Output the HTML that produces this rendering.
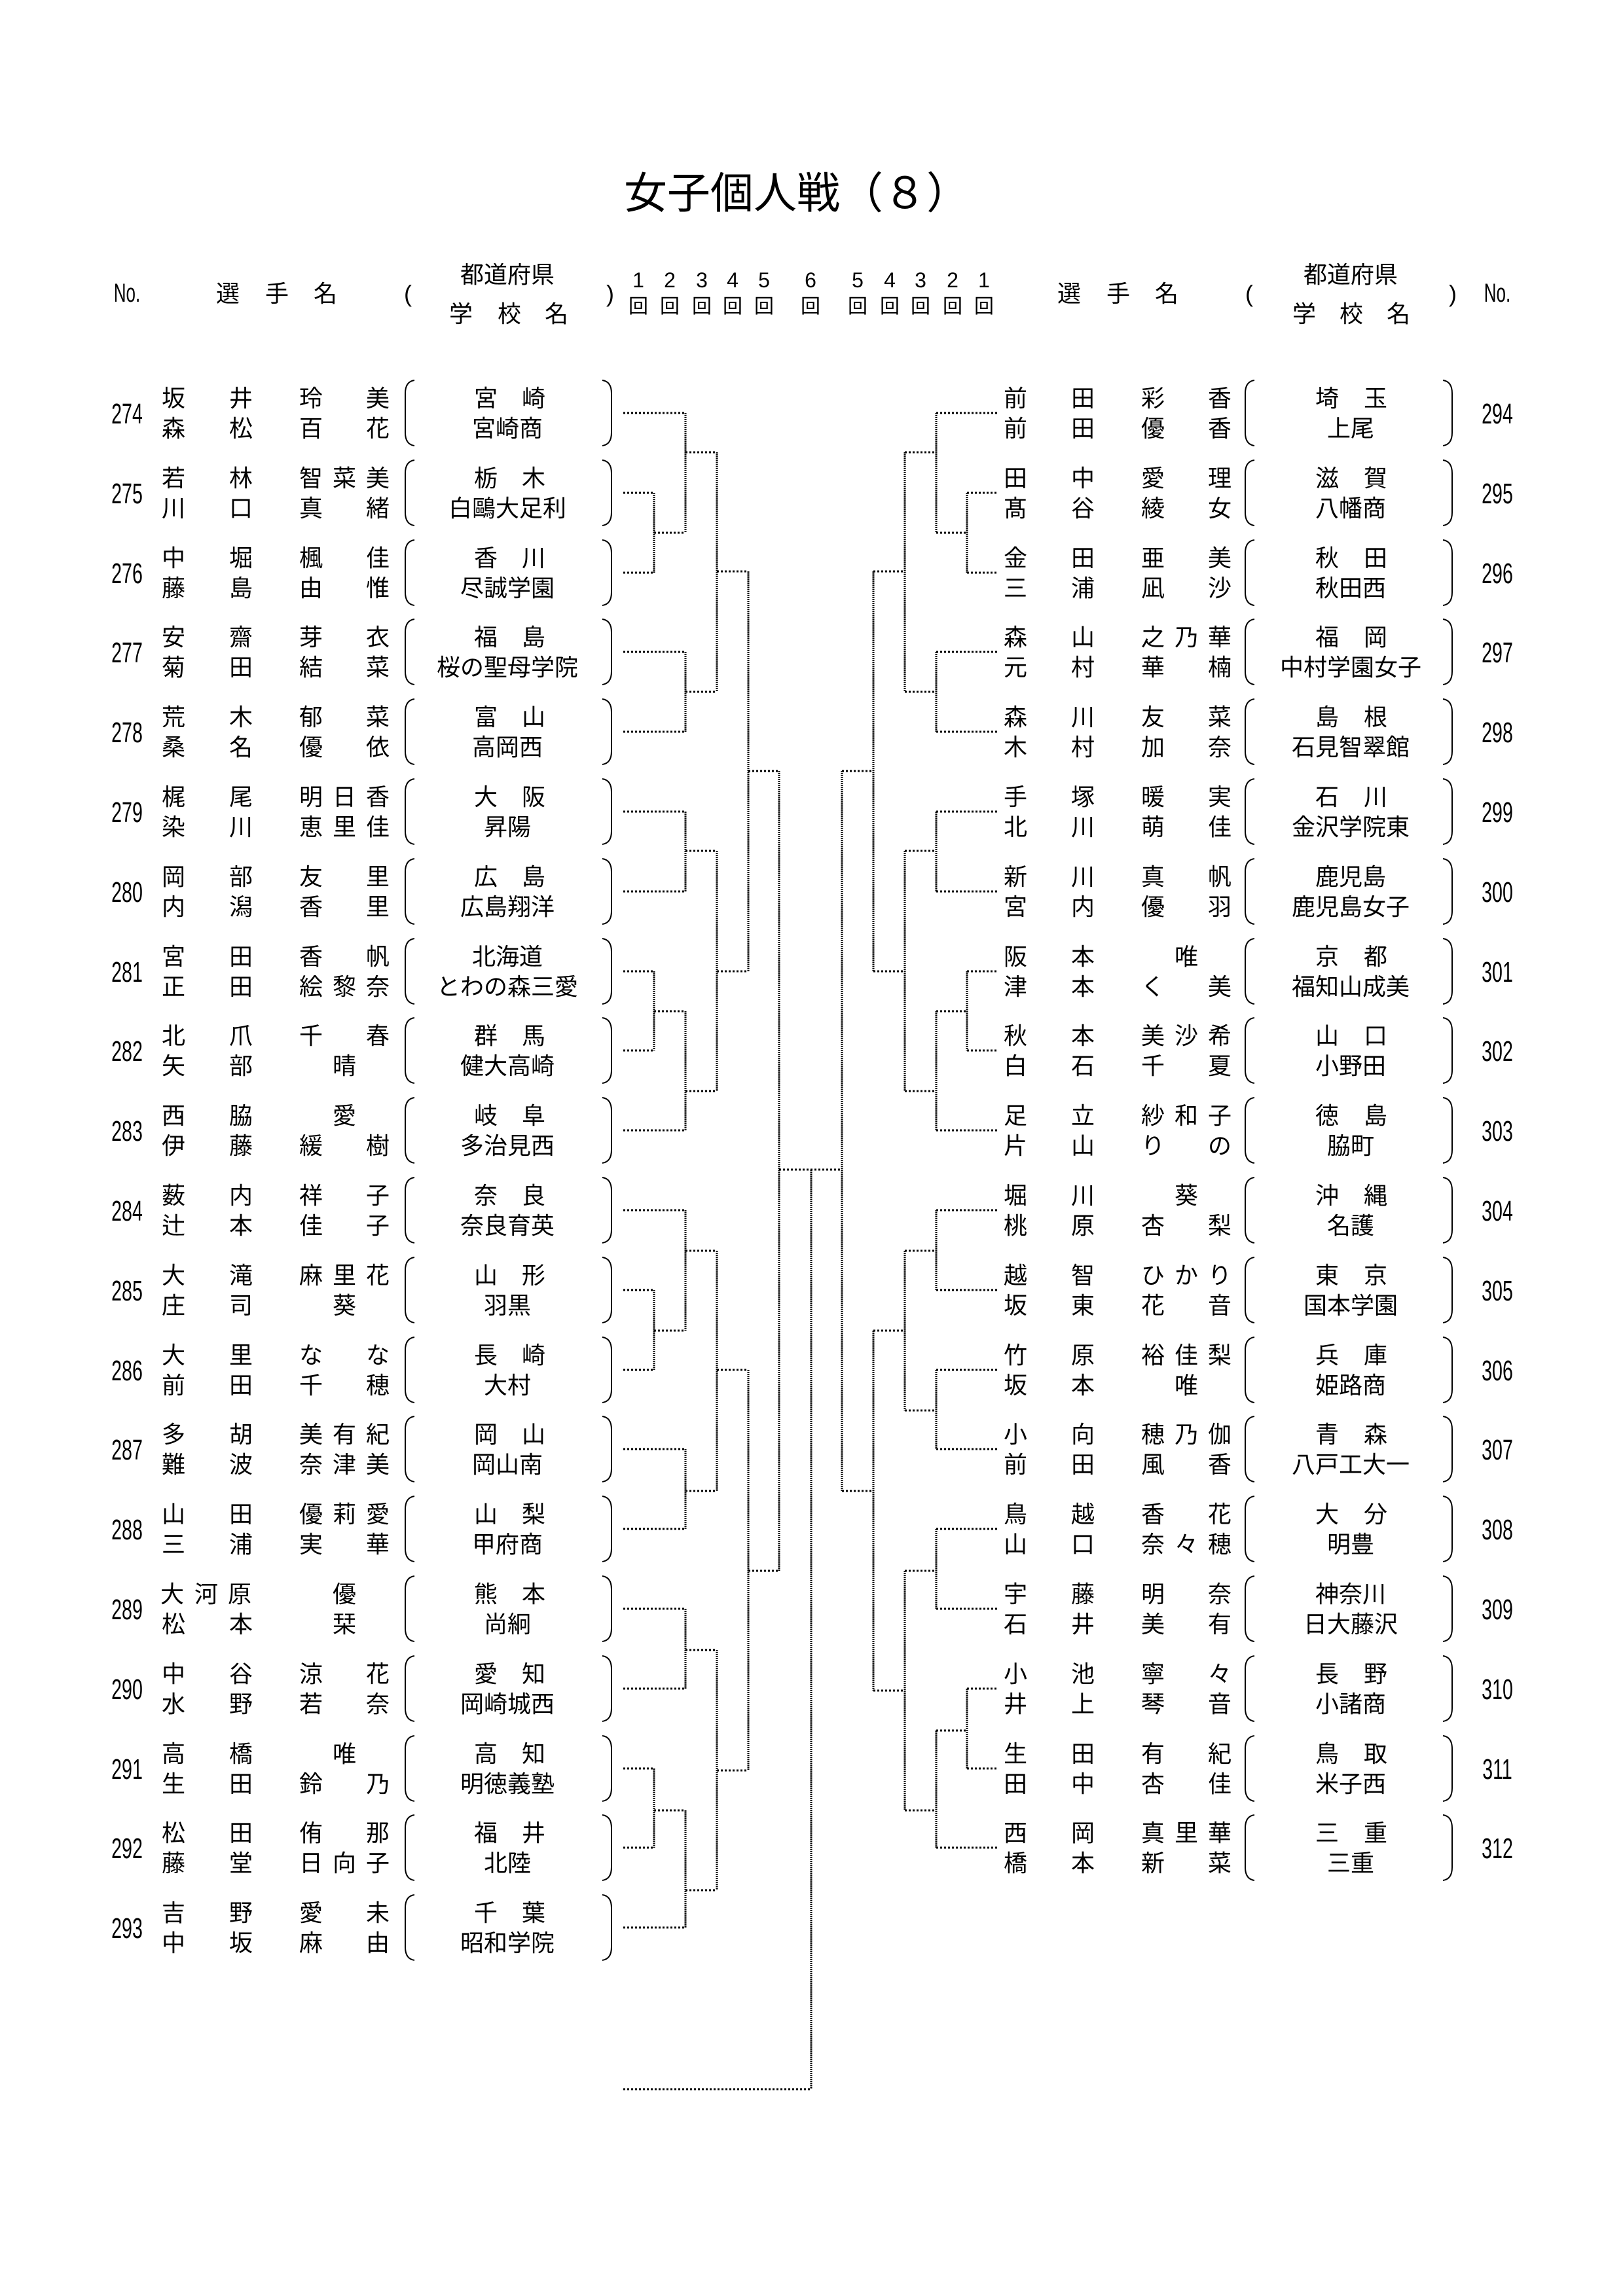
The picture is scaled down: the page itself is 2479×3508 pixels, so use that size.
<!DOCTYPE html>
<html><head><meta charset="utf-8"><style>
html,body{margin:0;padding:0;background:#fff}
svg{display:block}
text{font-family:"Liberation Sans","Noto Sans CJK JP",sans-serif;fill:#000}
.n{font-size:36px}
.c{text-anchor:middle}
.h{fill:none;stroke:#000;stroke-width:3;stroke-dasharray:3 3}
.v{fill:none;stroke:#000;stroke-width:3;stroke-dasharray:2 1}
.p{fill:none;stroke:#000;stroke-width:2}
</style></head><body>
<svg width="2479" height="3508" viewBox="0 0 2479 3508" xmlns="http://www.w3.org/2000/svg">
<defs>
<path id="lp" d="M14,-50 Q0,-48 0,-30 L0,30 Q0,48 14,50"/>
<path id="rp" d="M0,-50 Q14,-48 14,-30 L14,30 Q14,48 0,50"/>
</defs>
<text x="1217" y="318" class="c" font-size="66">女子個人戦（８）</text>

<!-- header left -->
<text transform="translate(194,461) scale(0.65,1)" class="c" font-size="40">No.</text>
<text class="n c" x="348 423 497" y="461">選手名</text>
<text class="n c" x="623" y="461">(</text>
<text class="n c" x="775" y="432">都道府県</text>
<text class="n c" x="704 778 850" y="492">学校名</text>
<text class="n c" x="932" y="461">)</text>
<text class="c" font-size="32" x="975 1023 1072 1119 1167 1238 1310 1359 1406 1455 1503" y="439">12345654321</text>
<text class="c" font-size="30" x="975 1023 1072 1119 1167 1238 1310 1359 1406 1455 1503" y="478">回回回回回回回回回回回</text>
<!-- header right -->
<text class="n c" x="1633 1708 1782" y="461">選手名</text>
<text class="n c" x="1908" y="461">(</text>
<text class="n c" x="2063" y="432">都道府県</text>
<text class="n c" x="1992 2064 2136" y="492">学校名</text>
<text class="n c" x="2219" y="461">)</text>
<text transform="translate(2287,461) scale(0.65,1)" class="c" font-size="40">No.</text>

<!-- left rows -->
<g class="n c">
<g transform="translate(0,631)"><text transform="translate(194,16) scale(0.65,1)" font-size="44">274</text><text x="265 368" y="-10">坂井</text><text x="475 577" y="-10">玲美</text><text x="265 368" y="36">森松</text><text x="475 577" y="36">百花</text><use href="#lp" x="619" class="p"/><use href="#rp" x="920" class="p"/><text x="742 815" y="-10">宮崎</text><text x="775" y="36">宮崎商</text></g>
<g transform="translate(0,753)"><text transform="translate(194,16) scale(0.65,1)" font-size="44">275</text><text x="265 368" y="-10">若林</text><text x="475 526 577" y="-10">智菜美</text><text x="265 368" y="36">川口</text><text x="475 577" y="36">真緒</text><use href="#lp" x="619" class="p"/><use href="#rp" x="920" class="p"/><text x="742 815" y="-10">栃木</text><text x="775" y="36">白鷗大足利</text></g>
<g transform="translate(0,875)"><text transform="translate(194,16) scale(0.65,1)" font-size="44">276</text><text x="265 368" y="-10">中堀</text><text x="475 577" y="-10">楓佳</text><text x="265 368" y="36">藤島</text><text x="475 577" y="36">由惟</text><use href="#lp" x="619" class="p"/><use href="#rp" x="920" class="p"/><text x="742 815" y="-10">香川</text><text x="775" y="36">尽誠学園</text></g>
<g transform="translate(0,996)"><text transform="translate(194,16) scale(0.65,1)" font-size="44">277</text><text x="265 368" y="-10">安齋</text><text x="475 577" y="-10">芽衣</text><text x="265 368" y="36">菊田</text><text x="475 577" y="36">結菜</text><use href="#lp" x="619" class="p"/><use href="#rp" x="920" class="p"/><text x="742 815" y="-10">福島</text><text x="775" y="36">桜の聖母学院</text></g>
<g transform="translate(0,1118)"><text transform="translate(194,16) scale(0.65,1)" font-size="44">278</text><text x="265 368" y="-10">荒木</text><text x="475 577" y="-10">郁菜</text><text x="265 368" y="36">桑名</text><text x="475 577" y="36">優依</text><use href="#lp" x="619" class="p"/><use href="#rp" x="920" class="p"/><text x="742 815" y="-10">富山</text><text x="775" y="36">高岡西</text></g>
<g transform="translate(0,1240)"><text transform="translate(194,16) scale(0.65,1)" font-size="44">279</text><text x="265 368" y="-10">梶尾</text><text x="475 526 577" y="-10">明日香</text><text x="265 368" y="36">染川</text><text x="475 526 577" y="36">恵里佳</text><use href="#lp" x="619" class="p"/><use href="#rp" x="920" class="p"/><text x="742 815" y="-10">大阪</text><text x="775" y="36">昇陽</text></g>
<g transform="translate(0,1362)"><text transform="translate(194,16) scale(0.65,1)" font-size="44">280</text><text x="265 368" y="-10">岡部</text><text x="475 577" y="-10">友里</text><text x="265 368" y="36">内潟</text><text x="475 577" y="36">香里</text><use href="#lp" x="619" class="p"/><use href="#rp" x="920" class="p"/><text x="742 815" y="-10">広島</text><text x="775" y="36">広島翔洋</text></g>
<g transform="translate(0,1484)"><text transform="translate(194,16) scale(0.65,1)" font-size="44">281</text><text x="265 368" y="-10">宮田</text><text x="475 577" y="-10">香帆</text><text x="265 368" y="36">正田</text><text x="475 526 577" y="36">絵黎奈</text><use href="#lp" x="619" class="p"/><use href="#rp" x="920" class="p"/><text x="775" y="-10">北海道</text><text x="775" y="36">とわの森三愛</text></g>
<g transform="translate(0,1605)"><text transform="translate(194,16) scale(0.65,1)" font-size="44">282</text><text x="265 368" y="-10">北爪</text><text x="475 577" y="-10">千春</text><text x="265 368" y="36">矢部</text><text x="526" y="36">晴</text><use href="#lp" x="619" class="p"/><use href="#rp" x="920" class="p"/><text x="742 815" y="-10">群馬</text><text x="775" y="36">健大高崎</text></g>
<g transform="translate(0,1727)"><text transform="translate(194,16) scale(0.65,1)" font-size="44">283</text><text x="265 368" y="-10">西脇</text><text x="526" y="-10">愛</text><text x="265 368" y="36">伊藤</text><text x="475 577" y="36">緩樹</text><use href="#lp" x="619" class="p"/><use href="#rp" x="920" class="p"/><text x="742 815" y="-10">岐阜</text><text x="775" y="36">多治見西</text></g>
<g transform="translate(0,1849)"><text transform="translate(194,16) scale(0.65,1)" font-size="44">284</text><text x="265 368" y="-10">薮内</text><text x="475 577" y="-10">祥子</text><text x="265 368" y="36">辻本</text><text x="475 577" y="36">佳子</text><use href="#lp" x="619" class="p"/><use href="#rp" x="920" class="p"/><text x="742 815" y="-10">奈良</text><text x="775" y="36">奈良育英</text></g>
<g transform="translate(0,1971)"><text transform="translate(194,16) scale(0.65,1)" font-size="44">285</text><text x="265 368" y="-10">大滝</text><text x="475 526 577" y="-10">麻里花</text><text x="265 368" y="36">庄司</text><text x="526" y="36">葵</text><use href="#lp" x="619" class="p"/><use href="#rp" x="920" class="p"/><text x="742 815" y="-10">山形</text><text x="775" y="36">羽黒</text></g>
<g transform="translate(0,2093)"><text transform="translate(194,16) scale(0.65,1)" font-size="44">286</text><text x="265 368" y="-10">大里</text><text x="475 577" y="-10">なな</text><text x="265 368" y="36">前田</text><text x="475 577" y="36">千穂</text><use href="#lp" x="619" class="p"/><use href="#rp" x="920" class="p"/><text x="742 815" y="-10">長崎</text><text x="775" y="36">大村</text></g>
<g transform="translate(0,2214)"><text transform="translate(194,16) scale(0.65,1)" font-size="44">287</text><text x="265 368" y="-10">多胡</text><text x="475 526 577" y="-10">美有紀</text><text x="265 368" y="36">難波</text><text x="475 526 577" y="36">奈津美</text><use href="#lp" x="619" class="p"/><use href="#rp" x="920" class="p"/><text x="742 815" y="-10">岡山</text><text x="775" y="36">岡山南</text></g>
<g transform="translate(0,2336)"><text transform="translate(194,16) scale(0.65,1)" font-size="44">288</text><text x="265 368" y="-10">山田</text><text x="475 526 577" y="-10">優莉愛</text><text x="265 368" y="36">三浦</text><text x="475 577" y="36">実華</text><use href="#lp" x="619" class="p"/><use href="#rp" x="920" class="p"/><text x="742 815" y="-10">山梨</text><text x="775" y="36">甲府商</text></g>
<g transform="translate(0,2458)"><text transform="translate(194,16) scale(0.65,1)" font-size="44">289</text><text x="263 315 366" y="-10">大河原</text><text x="526" y="-10">優</text><text x="265 368" y="36">松本</text><text x="526" y="36">栞</text><use href="#lp" x="619" class="p"/><use href="#rp" x="920" class="p"/><text x="742 815" y="-10">熊本</text><text x="775" y="36">尚絅</text></g>
<g transform="translate(0,2580)"><text transform="translate(194,16) scale(0.65,1)" font-size="44">290</text><text x="265 368" y="-10">中谷</text><text x="475 577" y="-10">涼花</text><text x="265 368" y="36">水野</text><text x="475 577" y="36">若奈</text><use href="#lp" x="619" class="p"/><use href="#rp" x="920" class="p"/><text x="742 815" y="-10">愛知</text><text x="775" y="36">岡崎城西</text></g>
<g transform="translate(0,2702)"><text transform="translate(194,16) scale(0.65,1)" font-size="44">291</text><text x="265 368" y="-10">高橋</text><text x="526" y="-10">唯</text><text x="265 368" y="36">生田</text><text x="475 577" y="36">鈴乃</text><use href="#lp" x="619" class="p"/><use href="#rp" x="920" class="p"/><text x="742 815" y="-10">高知</text><text x="775" y="36">明徳義塾</text></g>
<g transform="translate(0,2823)"><text transform="translate(194,16) scale(0.65,1)" font-size="44">292</text><text x="265 368" y="-10">松田</text><text x="475 577" y="-10">侑那</text><text x="265 368" y="36">藤堂</text><text x="475 526 577" y="36">日向子</text><use href="#lp" x="619" class="p"/><use href="#rp" x="920" class="p"/><text x="742 815" y="-10">福井</text><text x="775" y="36">北陸</text></g>
<g transform="translate(0,2945)"><text transform="translate(194,16) scale(0.65,1)" font-size="44">293</text><text x="265 368" y="-10">吉野</text><text x="475 577" y="-10">愛未</text><text x="265 368" y="36">中坂</text><text x="475 577" y="36">麻由</text><use href="#lp" x="619" class="p"/><use href="#rp" x="920" class="p"/><text x="742 815" y="-10">千葉</text><text x="775" y="36">昭和学院</text></g>
</g>

<!-- right rows -->
<g class="n c">
<g transform="translate(0,631)"><text x="1551 1654" y="-10">前田</text><text x="1761 1863" y="-10">彩香</text><text x="1551 1654" y="36">前田</text><text x="1761 1863" y="36">優香</text><use href="#lp" x="1902" class="p"/><use href="#rp" x="2204" class="p"/><text x="2027 2101" y="-10">埼玉</text><text x="2063" y="36">上尾</text><text transform="translate(2287,16) scale(0.65,1)" font-size="44">294</text></g>
<g transform="translate(0,753)"><text x="1551 1654" y="-10">田中</text><text x="1761 1863" y="-10">愛理</text><text x="1551 1654" y="36">髙谷</text><text x="1761 1863" y="36">綾女</text><use href="#lp" x="1902" class="p"/><use href="#rp" x="2204" class="p"/><text x="2027 2101" y="-10">滋賀</text><text x="2063" y="36">八幡商</text><text transform="translate(2287,16) scale(0.65,1)" font-size="44">295</text></g>
<g transform="translate(0,875)"><text x="1551 1654" y="-10">金田</text><text x="1761 1863" y="-10">亜美</text><text x="1551 1654" y="36">三浦</text><text x="1761 1863" y="36">凪沙</text><use href="#lp" x="1902" class="p"/><use href="#rp" x="2204" class="p"/><text x="2027 2101" y="-10">秋田</text><text x="2063" y="36">秋田西</text><text transform="translate(2287,16) scale(0.65,1)" font-size="44">296</text></g>
<g transform="translate(0,996)"><text x="1551 1654" y="-10">森山</text><text x="1761 1812 1863" y="-10">之乃華</text><text x="1551 1654" y="36">元村</text><text x="1761 1863" y="36">華楠</text><use href="#lp" x="1902" class="p"/><use href="#rp" x="2204" class="p"/><text x="2027 2101" y="-10">福岡</text><text x="2063" y="36">中村学園女子</text><text transform="translate(2287,16) scale(0.65,1)" font-size="44">297</text></g>
<g transform="translate(0,1118)"><text x="1551 1654" y="-10">森川</text><text x="1761 1863" y="-10">友菜</text><text x="1551 1654" y="36">木村</text><text x="1761 1863" y="36">加奈</text><use href="#lp" x="1902" class="p"/><use href="#rp" x="2204" class="p"/><text x="2027 2101" y="-10">島根</text><text x="2063" y="36">石見智翠館</text><text transform="translate(2287,16) scale(0.65,1)" font-size="44">298</text></g>
<g transform="translate(0,1240)"><text x="1551 1654" y="-10">手塚</text><text x="1761 1863" y="-10">暖実</text><text x="1551 1654" y="36">北川</text><text x="1761 1863" y="36">萌佳</text><use href="#lp" x="1902" class="p"/><use href="#rp" x="2204" class="p"/><text x="2027 2101" y="-10">石川</text><text x="2063" y="36">金沢学院東</text><text transform="translate(2287,16) scale(0.65,1)" font-size="44">299</text></g>
<g transform="translate(0,1362)"><text x="1551 1654" y="-10">新川</text><text x="1761 1863" y="-10">真帆</text><text x="1551 1654" y="36">宮内</text><text x="1761 1863" y="36">優羽</text><use href="#lp" x="1902" class="p"/><use href="#rp" x="2204" class="p"/><text x="2063" y="-10">鹿児島</text><text x="2063" y="36">鹿児島女子</text><text transform="translate(2287,16) scale(0.65,1)" font-size="44">300</text></g>
<g transform="translate(0,1484)"><text x="1551 1654" y="-10">阪本</text><text x="1812" y="-10">唯</text><text x="1551 1654" y="36">津本</text><text x="1761 1863" y="36">く美</text><use href="#lp" x="1902" class="p"/><use href="#rp" x="2204" class="p"/><text x="2027 2101" y="-10">京都</text><text x="2063" y="36">福知山成美</text><text transform="translate(2287,16) scale(0.65,1)" font-size="44">301</text></g>
<g transform="translate(0,1605)"><text x="1551 1654" y="-10">秋本</text><text x="1761 1812 1863" y="-10">美沙希</text><text x="1551 1654" y="36">白石</text><text x="1761 1863" y="36">千夏</text><use href="#lp" x="1902" class="p"/><use href="#rp" x="2204" class="p"/><text x="2027 2101" y="-10">山口</text><text x="2063" y="36">小野田</text><text transform="translate(2287,16) scale(0.65,1)" font-size="44">302</text></g>
<g transform="translate(0,1727)"><text x="1551 1654" y="-10">足立</text><text x="1761 1812 1863" y="-10">紗和子</text><text x="1551 1654" y="36">片山</text><text x="1761 1863" y="36">りの</text><use href="#lp" x="1902" class="p"/><use href="#rp" x="2204" class="p"/><text x="2027 2101" y="-10">徳島</text><text x="2063" y="36">脇町</text><text transform="translate(2287,16) scale(0.65,1)" font-size="44">303</text></g>
<g transform="translate(0,1849)"><text x="1551 1654" y="-10">堀川</text><text x="1812" y="-10">葵</text><text x="1551 1654" y="36">桃原</text><text x="1761 1863" y="36">杏梨</text><use href="#lp" x="1902" class="p"/><use href="#rp" x="2204" class="p"/><text x="2027 2101" y="-10">沖縄</text><text x="2063" y="36">名護</text><text transform="translate(2287,16) scale(0.65,1)" font-size="44">304</text></g>
<g transform="translate(0,1971)"><text x="1551 1654" y="-10">越智</text><text x="1761 1812 1863" y="-10">ひかり</text><text x="1551 1654" y="36">坂東</text><text x="1761 1863" y="36">花音</text><use href="#lp" x="1902" class="p"/><use href="#rp" x="2204" class="p"/><text x="2027 2101" y="-10">東京</text><text x="2063" y="36">国本学園</text><text transform="translate(2287,16) scale(0.65,1)" font-size="44">305</text></g>
<g transform="translate(0,2093)"><text x="1551 1654" y="-10">竹原</text><text x="1761 1812 1863" y="-10">裕佳梨</text><text x="1551 1654" y="36">坂本</text><text x="1812" y="36">唯</text><use href="#lp" x="1902" class="p"/><use href="#rp" x="2204" class="p"/><text x="2027 2101" y="-10">兵庫</text><text x="2063" y="36">姫路商</text><text transform="translate(2287,16) scale(0.65,1)" font-size="44">306</text></g>
<g transform="translate(0,2214)"><text x="1551 1654" y="-10">小向</text><text x="1761 1812 1863" y="-10">穂乃伽</text><text x="1551 1654" y="36">前田</text><text x="1761 1863" y="36">風香</text><use href="#lp" x="1902" class="p"/><use href="#rp" x="2204" class="p"/><text x="2027 2101" y="-10">青森</text><text x="2063" y="36">八戸工大一</text><text transform="translate(2287,16) scale(0.65,1)" font-size="44">307</text></g>
<g transform="translate(0,2336)"><text x="1551 1654" y="-10">鳥越</text><text x="1761 1863" y="-10">香花</text><text x="1551 1654" y="36">山口</text><text x="1761 1812 1863" y="36">奈々穂</text><use href="#lp" x="1902" class="p"/><use href="#rp" x="2204" class="p"/><text x="2027 2101" y="-10">大分</text><text x="2063" y="36">明豊</text><text transform="translate(2287,16) scale(0.65,1)" font-size="44">308</text></g>
<g transform="translate(0,2458)"><text x="1551 1654" y="-10">宇藤</text><text x="1761 1863" y="-10">明奈</text><text x="1551 1654" y="36">石井</text><text x="1761 1863" y="36">美有</text><use href="#lp" x="1902" class="p"/><use href="#rp" x="2204" class="p"/><text x="2063" y="-10">神奈川</text><text x="2063" y="36">日大藤沢</text><text transform="translate(2287,16) scale(0.65,1)" font-size="44">309</text></g>
<g transform="translate(0,2580)"><text x="1551 1654" y="-10">小池</text><text x="1761 1863" y="-10">寧々</text><text x="1551 1654" y="36">井上</text><text x="1761 1863" y="36">琴音</text><use href="#lp" x="1902" class="p"/><use href="#rp" x="2204" class="p"/><text x="2027 2101" y="-10">長野</text><text x="2063" y="36">小諸商</text><text transform="translate(2287,16) scale(0.65,1)" font-size="44">310</text></g>
<g transform="translate(0,2702)"><text x="1551 1654" y="-10">生田</text><text x="1761 1863" y="-10">有紀</text><text x="1551 1654" y="36">田中</text><text x="1761 1863" y="36">杏佳</text><use href="#lp" x="1902" class="p"/><use href="#rp" x="2204" class="p"/><text x="2027 2101" y="-10">鳥取</text><text x="2063" y="36">米子西</text><text transform="translate(2287,16) scale(0.65,1)" font-size="44">311</text></g>
<g transform="translate(0,2823)"><text x="1551 1654" y="-10">西岡</text><text x="1761 1812 1863" y="-10">真里華</text><text x="1551 1654" y="36">橋本</text><text x="1761 1863" y="36">新菜</text><use href="#lp" x="1902" class="p"/><use href="#rp" x="2204" class="p"/><text x="2027 2101" y="-10">三重</text><text x="2063" y="36">三重</text><text transform="translate(2287,16) scale(0.65,1)" font-size="44">312</text></g>
</g>

<!-- bracket horizontals -->
<path class="h" d="
M952,631H1047 M952,753H999 M952,875H999 M999,814H1047 M1047,691H1095
M952,996H1047 M952,1118H1047 M1047,1057H1095 M1095,873H1143
M952,1240H1047 M952,1362H1047 M1047,1300H1095
M952,1484H999 M952,1605H999 M999,1545H1047 M952,1727H1047 M1047,1667H1095 M1095,1484H1143
M1143,1178H1190
M952,1849H1047 M952,1971H999 M952,2093H999 M999,2033H1047 M1047,1911H1095
M952,2214H1047 M952,2336H1047 M1047,2278H1095 M1095,2093H1143
M952,2458H1047 M952,2580H1047 M1047,2521H1095
M952,2702H999 M952,2823H999 M999,2766H1047 M952,2945H1047 M1047,2888H1095 M1095,2705H1143
M1143,2400H1190 M1190,1787H1286 M952,3192H1239
M1430,631H1525 M1477,753H1525 M1477,875H1525 M1430,814H1477 M1382,691H1430
M1430,996H1525 M1430,1118H1525 M1382,1057H1430 M1334,873H1382
M1430,1240H1525 M1430,1362H1525 M1382,1300H1430
M1477,1484H1525 M1477,1605H1525 M1430,1545H1477 M1430,1727H1525 M1382,1667H1430 M1334,1484H1382
M1286,1178H1334
M1430,1849H1525 M1430,1971H1525 M1382,1911H1430
M1430,2093H1525 M1430,2214H1525 M1382,2155H1430 M1334,2033H1382
M1430,2336H1525 M1430,2458H1525 M1382,2400H1430
M1477,2580H1525 M1477,2702H1525 M1430,2644H1477 M1430,2823H1525 M1382,2766H1430 M1334,2583H1382
M1286,2278H1334"/>
<!-- bracket verticals -->
<path class="v" d="
M999,753V875 M1047,631V814 M1047,996V1118 M1095,691V1057
M1047,1240V1362 M999,1484V1605 M1047,1545V1727 M1095,1300V1667 M1143,873V1484
M1047,1849V2033 M999,1971V2093 M1047,2214V2336 M1095,1911V2278
M1047,2458V2580 M999,2702V2823 M1047,2766V2945 M1095,2521V2888 M1143,2093V2705
M1190,1178V2400 M1239,1787V3192
M1477,753V875 M1430,631V814 M1430,996V1118 M1382,691V1057
M1430,1240V1362 M1477,1484V1605 M1430,1545V1727 M1382,1300V1667 M1334,873V1484
M1430,1849V1971 M1430,2093V2214 M1382,1911V2155
M1430,2336V2458 M1477,2580V2702 M1430,2644V2823 M1382,2400V2766 M1334,2033V2583
M1286,1178V2278"/>
</svg>
</body></html>
